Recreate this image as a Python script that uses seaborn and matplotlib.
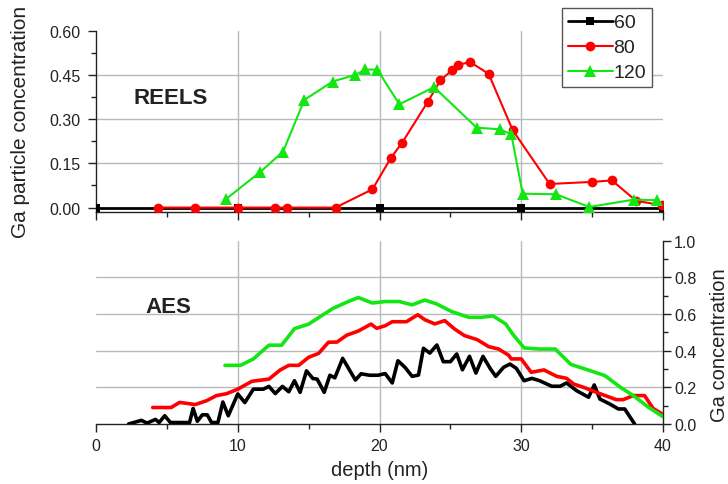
import matplotlib
matplotlib.use("Agg")
import matplotlib.pyplot as plt
from matplotlib.ticker import MultipleLocator
import seaborn as sns

# ---- REELS: Ga particle concentration vs depth (nm) ----
reels_60_depth = [0, 10, 20, 30, 40]
reels_60_conc = [0.0, 0.0, 0.0, 0.0, 0.0]

reels_80_depth = [4.4, 7.0, 10.0, 12.6, 13.45, 16.9, 19.5, 20.8, 21.6, 23.4, 24.3,
                  25.1, 25.55, 26.4, 27.7, 29.4, 32.0, 35.0, 36.4, 38.1, 39.9]
reels_80_conc = [0.0, 0.0, 0.0, 0.0, 0.0, 0.0, 0.062, 0.168, 0.22, 0.358, 0.431,
                 0.465, 0.484, 0.493, 0.453, 0.262, 0.080, 0.087, 0.092, 0.023, 0.008]

reels_120_depth = [9.2, 11.6, 13.2, 14.7, 16.7, 18.3, 19.0, 19.85, 21.4, 23.85,
                   26.85, 28.5, 29.3, 30.1, 32.45, 34.8, 37.95, 39.55]
reels_120_conc = [0.030, 0.121, 0.190, 0.365, 0.427, 0.450, 0.468, 0.467, 0.350, 0.408,
                  0.271, 0.265, 0.248, 0.047, 0.045, 0.002, 0.027, 0.025]

# ---- AES: Ga concentration vs depth (nm) ----
aes_60_depth = [2.3, 3.2, 3.6, 4.2, 4.45, 4.85, 5.25, 6.6, 6.85, 7.15, 7.5, 7.85,
                8.15, 8.6, 8.95, 9.33, 10.0, 10.5, 11.1, 11.8, 12.2, 12.65, 13.15,
                13.6, 14.0, 14.4, 14.85, 15.3, 15.6, 16.1, 16.5, 16.85, 17.4, 18.3,
                18.7, 19.3, 19.9, 20.4, 20.9, 21.3, 21.8, 22.3, 22.75, 23.1, 23.55,
                24.05, 24.5, 25.0, 25.45, 25.85, 26.35, 26.8, 27.3, 27.8, 28.2, 28.75,
                29.2, 29.65, 30.2, 30.75, 31.3, 32.15, 32.75, 33.2, 33.9, 34.75, 35.15,
                35.55, 36.25, 36.85, 37.3, 38.0]
aes_60_conc = [0.0, 0.02, 0.005, 0.025, 0.008, 0.045, 0.008, 0.008, 0.085, 0.015, 0.05,
               0.05, 0.008, 0.008, 0.12, 0.045, 0.164, 0.117, 0.19, 0.19, 0.205, 0.166,
               0.205, 0.176, 0.236, 0.173, 0.29, 0.248, 0.245, 0.173, 0.266, 0.252,
               0.358, 0.24, 0.274, 0.266, 0.266, 0.275, 0.224, 0.345, 0.309, 0.26,
               0.267, 0.413, 0.387, 0.431, 0.34, 0.34, 0.382, 0.296, 0.369, 0.278,
               0.369, 0.304, 0.26, 0.309, 0.327, 0.304, 0.236, 0.249, 0.236, 0.206,
               0.206, 0.224, 0.182, 0.146, 0.213, 0.136, 0.109, 0.082, 0.082, 0.0]

aes_80_depth = [4.0, 5.3, 5.9, 7.0, 7.8, 8.5, 9.2, 10.0, 11.0, 12.2, 13.0, 13.6, 14.3,
                15.0, 15.7, 16.4, 17.0, 17.7, 18.5, 19.4, 19.8, 20.4, 20.9, 21.9, 22.7,
                23.2, 23.9, 24.6, 25.3, 26.0, 26.9, 27.7, 28.4, 29.1, 29.3, 30.0, 30.7,
                31.6, 32.5, 33.2, 33.7, 34.4, 35.6, 36.7, 37.2, 37.9, 38.7, 39.3, 40.0]
aes_80_conc = [0.09, 0.09, 0.118, 0.106, 0.127, 0.155, 0.165, 0.19, 0.233, 0.245, 0.295,
               0.32, 0.32, 0.364, 0.385, 0.446, 0.447, 0.485, 0.507, 0.545, 0.522, 0.536,
               0.558, 0.558, 0.596, 0.569, 0.546, 0.564, 0.518, 0.482, 0.46, 0.422, 0.409,
               0.376, 0.355, 0.355, 0.282, 0.295, 0.26, 0.249, 0.218, 0.2, 0.164, 0.133,
               0.133, 0.155, 0.155, 0.085, 0.052]

aes_120_depth = [9.1, 10.2, 11.1, 12.2, 13.1, 14.0, 15.0, 15.9, 16.7, 17.7, 18.5, 19.5,
                 20.4, 21.4, 22.3, 23.2, 24.0, 25.1, 26.3, 27.2, 28.0, 28.9, 29.4, 30.2,
                 31.3, 32.4, 33.5, 34.7, 35.9, 37.0, 37.9, 39.0, 40.0]
aes_120_conc = [0.32, 0.32, 0.355, 0.43, 0.43, 0.52, 0.545, 0.59, 0.63, 0.665, 0.69, 0.66,
                0.668, 0.668, 0.65, 0.676, 0.656, 0.613, 0.582, 0.582, 0.59, 0.546, 0.49,
                0.415, 0.409, 0.409, 0.325, 0.295, 0.264, 0.2, 0.155, 0.09, 0.04]

series_labels = ["60", "80", "120"]
colors = {"60": "#000000", "80": "#ff0000", "120": "#14e614"}

sns.set_style("white")
plt.rcParams["font.family"] = ["Liberation Sans", "DejaVu Sans"]

W, H = 728, 485
fig = plt.figure(figsize=(W / 100, H / 100), dpi=100)
ax1 = fig.add_axes([96 / W, 1 - 213 / H, 567 / W, (213 - 31.5) / H])
ax2 = fig.add_axes([96 / W, 1 - 425 / H, 567 / W, (425 - 241.7) / H])

ink = "#222222"
grid_col = "#b9b9b9"

# ---- top panel (REELS) ----
sns.lineplot(x=reels_60_depth, y=reels_60_conc, ax=ax1, color=colors["60"], lw=2.0,
             marker="s", markersize=5.5, markeredgewidth=0, estimator=None,
             label=series_labels[0], zorder=3)
sns.lineplot(x=reels_80_depth, y=reels_80_conc, ax=ax1, color=colors["80"], lw=1.5,
             marker="o", markersize=7, markeredgewidth=0, estimator=None,
             label=series_labels[1], zorder=4)
sns.lineplot(x=reels_120_depth, y=reels_120_conc, ax=ax1, color=colors["120"], lw=1.5,
             marker="^", markersize=8, markeredgewidth=0, estimator=None,
             label=series_labels[2], zorder=5)

ax1.set_xlim(0, 40)
ax1.set_ylim(-0.015, 0.60)
ax1.xaxis.set_major_locator(MultipleLocator(10))
ax1.xaxis.set_minor_locator(MultipleLocator(5))
ax1.yaxis.set_major_locator(MultipleLocator(0.15))
ax1.yaxis.set_minor_locator(MultipleLocator(0.075))
ax1.yaxis.set_major_formatter(plt.FormatStrFormatter("%.2f"))
ax1.tick_params(axis="x", which="both", labelbottom=False)
for s in ("top", "right"):
    ax1.spines[s].set_visible(False)

ax1.text(2.68, 0.354, "REELS", fontsize=16, fontweight="bold", color=ink,
         ha="left", va="baseline")
ax1.set_ylabel("Ga particle concentration", fontsize=15, color=ink)
ax1.yaxis.set_label_coords((30 - 96) / 567, 0.5)

leg = ax1.legend(loc="upper right", bbox_to_anchor=(652 / W, 1 - 9 / H),
                 bbox_transform=fig.transFigure, borderaxespad=0, fontsize=14,
                 frameon=True, fancybox=False, framealpha=1, edgecolor="#555555",
                 handlelength=2.3, handletextpad=0.05, borderpad=0.3,
                 labelspacing=0.38)
leg.get_frame().set_linewidth(1.0)
for t in leg.get_texts():
    t.set_color(ink)

# ---- bottom panel (AES) ----
sns.lineplot(x=aes_60_depth, y=aes_60_conc, ax=ax2, color=colors["60"], lw=2.6,
             estimator=None, zorder=3)
sns.lineplot(x=aes_80_depth, y=aes_80_conc, ax=ax2, color=colors["80"], lw=2.6,
             estimator=None, zorder=4)
sns.lineplot(x=aes_120_depth, y=aes_120_conc, ax=ax2, color=colors["120"], lw=2.6,
             estimator=None, zorder=5)

ax2.set_xlim(0, 40)
ax2.set_ylim(0, 1.0)
ax2.xaxis.set_major_locator(MultipleLocator(10))
ax2.xaxis.set_minor_locator(MultipleLocator(5))
ax2.yaxis.set_major_locator(MultipleLocator(0.2))
ax2.yaxis.set_minor_locator(MultipleLocator(0.1))
ax2.yaxis.set_major_formatter(plt.FormatStrFormatter("%.1f"))
ax2.yaxis.tick_right()
ax2.yaxis.set_label_position("right")
for s in ("top", "left"):
    ax2.spines[s].set_visible(False)

ax2.text(3.5, 0.613, "AES", fontsize=16, fontweight="bold", color=ink,
         ha="left", va="baseline")
ax2.set_xlabel("depth (nm)", fontsize=14.5, color=ink)
ax2.xaxis.set_label_coords(0.5, -(461 - 425) / 183.3)
ax2.set_ylabel("Ga concentration", fontsize=14.5, color=ink)
ax2.yaxis.set_label_coords((710 - 96) / 567, 0.436)

# ---- shared axis styling ----
for ax in (ax1, ax2):
    for sp in ax.spines.values():
        sp.set_color(ink)
        sp.set_linewidth(1.0)
    ax.tick_params(which="major", direction="out", length=6, width=1, color=ink,
                   labelsize=11.5, labelcolor=ink, pad=4)
    ax.tick_params(which="minor", direction="out", length=3.5, width=1, color=ink)
    ax.tick_params(axis="x", which="both", bottom=True)
    ax.tick_params(axis="y", which="both", left=(ax is ax1), right=(ax is ax2))
    ax.grid(True, which="major", color=grid_col, lw=1.0)
    ax.set_axisbelow(True)
    lo, hi = ax.get_ylim()
    for gl, v in zip(ax.get_ygridlines(), ax.get_yticks()):
        if v <= max(lo, 0) + 1e-9 or v >= hi - 1e-9:
            gl.set_visible(False)
    for gl, v in zip(ax.get_xgridlines(), ax.get_xticks()):
        if v <= 0 or v >= 40:
            gl.set_visible(False)

ax1.tick_params(axis="y", pad=5)
ax2.tick_params(axis="y", pad=2)

fig.savefig("out.png", dpi=100)
